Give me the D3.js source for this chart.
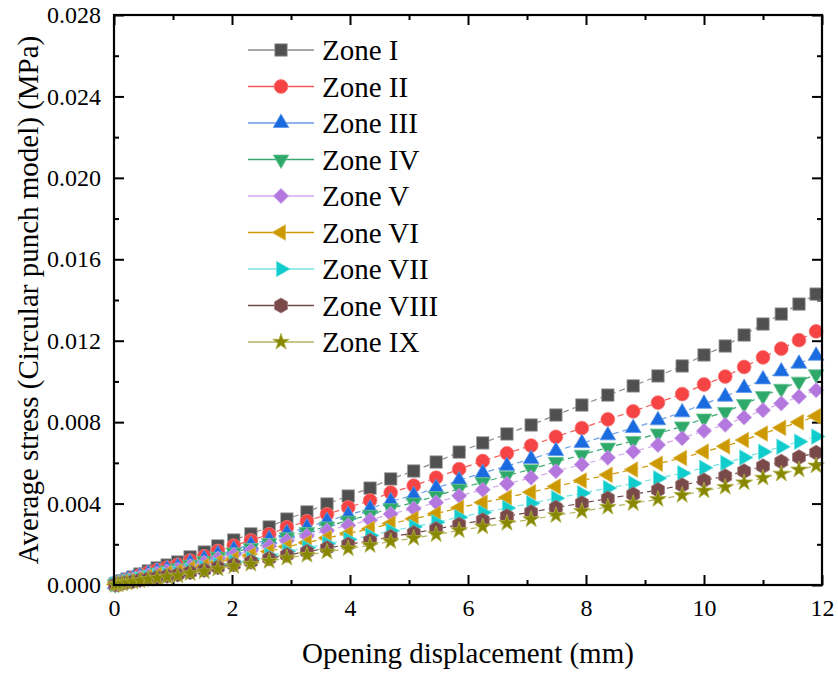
<!DOCTYPE html>
<html>
<head>
<meta charset="utf-8">
<script src="https://cdn.jsdelivr.net/npm/d3@7"></script>
<style>
  body { margin: 0; background: #fff; }
  svg { display: block; }
  text { font-family: "Liberation Serif", "Times New Roman", serif; fill: #000; }
</style>
</head>
<body>
<script>
// ===============================
// DATA
// ===============================
const openingMm = [0.02, 0.07, 0.14, 0.22, 0.32, 0.44, 0.58, 0.73, 0.90, 1.08, 1.29, 1.53, 1.76, 2.03, 2.32, 2.63, 2.93, 3.27, 3.61, 3.97, 4.34, 4.69, 5.08, 5.46, 5.85, 6.25, 6.66, 7.07, 7.49, 7.93, 8.37, 8.80, 9.22, 9.63, 10.00, 10.36, 10.68, 11.00, 11.31, 11.61, 11.90];

const zone1 = [0.00005, 0.00010, 0.00020, 0.00029, 0.00039, 0.00054, 0.00069, 0.00084, 0.00098, 0.00113, 0.00138, 0.00162, 0.00192, 0.00221, 0.00251, 0.00285, 0.00324, 0.00359, 0.00398, 0.00437, 0.00476, 0.00521, 0.00560, 0.00604, 0.00653, 0.00698, 0.00742, 0.00786, 0.00835, 0.00884, 0.00933, 0.00978, 0.01027, 0.01076, 0.01130, 0.01174, 0.01228, 0.01282, 0.01331, 0.01380, 0.01429];
const zone2 = [0.00004, 0.00009, 0.00017, 0.00025, 0.00034, 0.00047, 0.00060, 0.00073, 0.00085, 0.00099, 0.00120, 0.00141, 0.00167, 0.00193, 0.00219, 0.00249, 0.00283, 0.00313, 0.00347, 0.00381, 0.00415, 0.00454, 0.00488, 0.00527, 0.00569, 0.00609, 0.00647, 0.00685, 0.00728, 0.00771, 0.00814, 0.00853, 0.00896, 0.00938, 0.00985, 0.01024, 0.01071, 0.01118, 0.01161, 0.01203, 0.01246];
const zone3 = [0.00004, 0.00008, 0.00016, 0.00023, 0.00031, 0.00043, 0.00054, 0.00066, 0.00077, 0.00089, 0.00109, 0.00128, 0.00151, 0.00174, 0.00198, 0.00225, 0.00255, 0.00283, 0.00314, 0.00344, 0.00375, 0.00411, 0.00441, 0.00476, 0.00515, 0.00550, 0.00585, 0.00619, 0.00658, 0.00697, 0.00735, 0.00771, 0.00809, 0.00848, 0.00890, 0.00925, 0.00968, 0.01010, 0.01049, 0.01087, 0.01126];
const zone4 = [0.00004, 0.00007, 0.00014, 0.00021, 0.00028, 0.00039, 0.00050, 0.00061, 0.00071, 0.00082, 0.00100, 0.00117, 0.00139, 0.00160, 0.00182, 0.00206, 0.00235, 0.00260, 0.00288, 0.00316, 0.00345, 0.00377, 0.00405, 0.00437, 0.00473, 0.00505, 0.00537, 0.00569, 0.00605, 0.00640, 0.00675, 0.00708, 0.00744, 0.00779, 0.00818, 0.00850, 0.00889, 0.00928, 0.00964, 0.00999, 0.01035];
const zone5 = [0.00003, 0.00007, 0.00013, 0.00019, 0.00026, 0.00036, 0.00046, 0.00056, 0.00066, 0.00076, 0.00092, 0.00109, 0.00129, 0.00148, 0.00168, 0.00191, 0.00217, 0.00241, 0.00267, 0.00293, 0.00319, 0.00349, 0.00375, 0.00405, 0.00438, 0.00468, 0.00497, 0.00527, 0.00559, 0.00592, 0.00625, 0.00655, 0.00688, 0.00721, 0.00757, 0.00787, 0.00823, 0.00859, 0.00892, 0.00925, 0.00957];
const zone6 = [0.00003, 0.00006, 0.00012, 0.00017, 0.00023, 0.00031, 0.00040, 0.00049, 0.00057, 0.00066, 0.00080, 0.00094, 0.00111, 0.00128, 0.00146, 0.00165, 0.00188, 0.00208, 0.00231, 0.00253, 0.00276, 0.00302, 0.00325, 0.00350, 0.00379, 0.00405, 0.00430, 0.00456, 0.00484, 0.00513, 0.00541, 0.00567, 0.00596, 0.00624, 0.00655, 0.00681, 0.00712, 0.00744, 0.00772, 0.00800, 0.00829];
const zone7 = [0.00003, 0.00005, 0.00010, 0.00015, 0.00020, 0.00028, 0.00035, 0.00043, 0.00050, 0.00058, 0.00070, 0.00083, 0.00098, 0.00113, 0.00128, 0.00145, 0.00165, 0.00183, 0.00203, 0.00223, 0.00243, 0.00266, 0.00286, 0.00308, 0.00333, 0.00356, 0.00378, 0.00401, 0.00426, 0.00451, 0.00476, 0.00499, 0.00524, 0.00549, 0.00576, 0.00599, 0.00626, 0.00654, 0.00679, 0.00704, 0.00729];
const zone8 = [0.00002, 0.00005, 0.00009, 0.00013, 0.00018, 0.00025, 0.00031, 0.00038, 0.00045, 0.00051, 0.00063, 0.00074, 0.00087, 0.00101, 0.00114, 0.00130, 0.00147, 0.00163, 0.00181, 0.00199, 0.00217, 0.00237, 0.00255, 0.00275, 0.00297, 0.00318, 0.00338, 0.00358, 0.00380, 0.00402, 0.00425, 0.00445, 0.00467, 0.00490, 0.00514, 0.00534, 0.00559, 0.00583, 0.00606, 0.00628, 0.00650];
const zone9 = [0.00002, 0.00004, 0.00008, 0.00012, 0.00016, 0.00022, 0.00028, 0.00034, 0.00040, 0.00046, 0.00057, 0.00066, 0.00079, 0.00091, 0.00103, 0.00117, 0.00133, 0.00147, 0.00163, 0.00179, 0.00195, 0.00214, 0.00230, 0.00248, 0.00268, 0.00286, 0.00304, 0.00322, 0.00342, 0.00362, 0.00383, 0.00401, 0.00421, 0.00441, 0.00463, 0.00481, 0.00503, 0.00526, 0.00546, 0.00566, 0.00586];

const zoneNames = ["Zone I", "Zone II", "Zone III", "Zone IV", "Zone V", "Zone VI", "Zone VII", "Zone VIII", "Zone IX"];
const zoneValues = [zone1, zone2, zone3, zone4, zone5, zone6, zone7, zone8, zone9];

const xTicks = [0, 2, 4, 6, 8, 10, 12];
const yTicks = [0, 0.004, 0.008, 0.012, 0.016, 0.020, 0.024, 0.028];

// ===============================
// CONFIGURATION
// ===============================
const width = 838;
const height = 674;
const margin = { top: 15, right: 16, bottom: 89, left: 114 };
const plotW = width - margin.left - margin.right;
const plotH = height - margin.top - margin.bottom;

// custom hexagon (pointy top), d3 has none
const symbolHexagon = {
  draw(context, size) {
    const r = Math.sqrt(size / (1.5 * Math.sqrt(3)));
    for (let i = 0; i < 6; i++) {
      const a = Math.PI / 3 * i - Math.PI / 2;
      if (i === 0) context.moveTo(r * Math.cos(a), r * Math.sin(a));
      else context.lineTo(r * Math.cos(a), r * Math.sin(a));
    }
    context.closePath();
  }
};

// marker styles per zone
const styles = [
  { fill: "#505050", edge: "#a0a0a0", line: "#8a8a8a", type: d3.symbolSquare,   size: 155, rot: 0 },
  { fill: "#f64343", edge: "#f87a7a", line: "#f55a5a", type: d3.symbolCircle,   size: 150, rot: 0 },
  { fill: "#1a6be0", edge: "#5d96ea", line: "#6b9de6", type: d3.symbolTriangle, size: 105, rot: 0 },
  { fill: "#2fa96a", edge: "#6cc597", line: "#3aa870", type: d3.symbolTriangle, size: 105, rot: 180 },
  { fill: "#b377de", edge: "#caa0ea", line: "#d2a8ec", type: d3.symbolSquare,   size: 115, rot: 45 },
  { fill: "#cc9900", edge: "#ddb84d", line: "#cc9900", type: d3.symbolTriangle, size: 105, rot: -90 },
  { fill: "#10cccc", edge: "#66dfdf", line: "#7ae3e3", type: d3.symbolTriangle, size: 105, rot: 90 },
  { fill: "#7a4a4a", edge: "#a07878", line: "#704848", type: symbolHexagon,     size: 145, rot: 0 },
  { fill: "#888800", edge: "#b0b04c", line: "#b3b35f", type: d3.symbolStar,     size: 85,  rot: 0 }
];

// ===============================
// SVG
// ===============================
const svg = d3.select("body")
  .append("svg")
  .attr("width", width)
  .attr("height", height);

const g = svg.append("g")
  .attr("transform", `translate(${margin.left},${margin.top})`);

// ===============================
// SCALES
// ===============================
const x = d3.scaleLinear().domain([0, 12]).range([0, plotW]);
const y = d3.scaleLinear().domain([0, 0.028]).range([plotH, 0]);

const xMinor = d3.range(1, 12, 2);
const yMinor = d3.range(0.002, 0.028, 0.004);

// ===============================
// AXES
// ===============================
function styleAxis(sel) {
  sel.select(".domain").remove();
  sel.selectAll("line").attr("stroke", "#000").attr("stroke-width", 2);
  sel.selectAll("text").attr("font-size", "24px").attr("fill", "#000")
    .style("font-family", "'Liberation Serif', serif");
}

g.append("g")
  .attr("transform", `translate(0,${plotH})`)
  .call(d3.axisBottom(x).tickValues(xTicks).tickSizeInner(-10).tickSizeOuter(0).tickPadding(14).tickFormat(d3.format("d")))
  .call(styleAxis);
g.append("g")
  .attr("transform", `translate(0,${plotH})`)
  .call(d3.axisBottom(x).tickValues(xMinor).tickSizeInner(-5).tickSizeOuter(0).tickFormat(""))
  .call(styleAxis);

g.append("g")
  .call(d3.axisTop(x).tickValues(xTicks).tickSizeInner(-10).tickSizeOuter(0).tickFormat(""))
  .call(styleAxis);
g.append("g")
  .call(d3.axisTop(x).tickValues(xMinor).tickSizeInner(-5).tickSizeOuter(0).tickFormat(""))
  .call(styleAxis);

g.append("g")
  .call(d3.axisLeft(y).tickValues(yTicks).tickSizeInner(-10).tickSizeOuter(0).tickPadding(13).tickFormat(d3.format(".3f")))
  .call(styleAxis);
g.append("g")
  .call(d3.axisLeft(y).tickValues(yMinor).tickSizeInner(-5).tickSizeOuter(0).tickFormat(""))
  .call(styleAxis);

g.append("g")
  .attr("transform", `translate(${plotW},0)`)
  .call(d3.axisRight(y).tickValues(yTicks).tickSizeInner(-10).tickSizeOuter(0).tickFormat(""))
  .call(styleAxis);
g.append("g")
  .attr("transform", `translate(${plotW},0)`)
  .call(d3.axisRight(y).tickValues(yMinor).tickSizeInner(-5).tickSizeOuter(0).tickFormat(""))
  .call(styleAxis);

// ===============================
// SERIES
// ===============================
const line = d3.line()
  .x(d => x(d[0]))
  .y(d => y(d[1]));

zoneValues.forEach((vals, i) => {
  const st = styles[i];
  const pts = openingMm.map((xv, j) => [xv, vals[j]]);
  const sg = g.append("g").attr("class", "zone");

  sg.append("path")
    .datum(pts)
    .attr("d", line)
    .attr("fill", "none")
    .attr("stroke", st.line)
    .attr("stroke-width", 1.2)
    .attr("stroke-dasharray", "6,4");

  sg.selectAll("path.mk")
    .data(pts)
    .join("path")
    .attr("class", "mk")
    .attr("d", d3.symbol().type(st.type).size(st.size))
    .attr("transform", d => `translate(${x(d[0])},${y(d[1])}) rotate(${st.rot})`)
    .attr("fill", st.fill)
    .attr("stroke", st.edge)
    .attr("stroke-width", 0.8);
});

// ===============================
// FRAME
// ===============================
g.append("rect")
  .attr("width", plotW)
  .attr("height", plotH)
  .attr("fill", "none")
  .attr("stroke", "#000")
  .attr("stroke-width", 2.2);

// ===============================
// LEGEND
// ===============================
const legend = svg.append("g")
  .attr("transform", "translate(248,50)");

zoneNames.forEach((name, i) => {
  const st = styles[i];
  const row = legend.append("g").attr("transform", `translate(0,${i * 36.5})`);
  row.append("line")
    .attr("x1", 0).attr("x2", 66)
    .attr("stroke", st.line)
    .attr("stroke-width", 1.5);
  row.append("path")
    .attr("d", d3.symbol().type(st.type).size(st.size))
    .attr("transform", `translate(33,0) rotate(${st.rot})`)
    .attr("fill", st.fill)
    .attr("stroke", st.edge)
    .attr("stroke-width", 0.8);
  row.append("text")
    .attr("x", 74)
    .attr("y", 10)
    .attr("font-size", "29px")
    .text(name);
});

// ===============================
// AXIS TITLES
// ===============================
svg.append("text")
  .attr("x", margin.left + plotW / 2)
  .attr("y", 663)
  .attr("text-anchor", "middle")
  .attr("font-size", "29px")
  .text("Opening displacement (mm)");

svg.append("text")
  .attr("transform", `translate(38,${margin.top + plotH / 2}) rotate(-90)`)
  .attr("text-anchor", "middle")
  .attr("font-size", "29px")
  .text("Average stress (Circular punch model) (MPa)");
</script>
</body>
</html>
